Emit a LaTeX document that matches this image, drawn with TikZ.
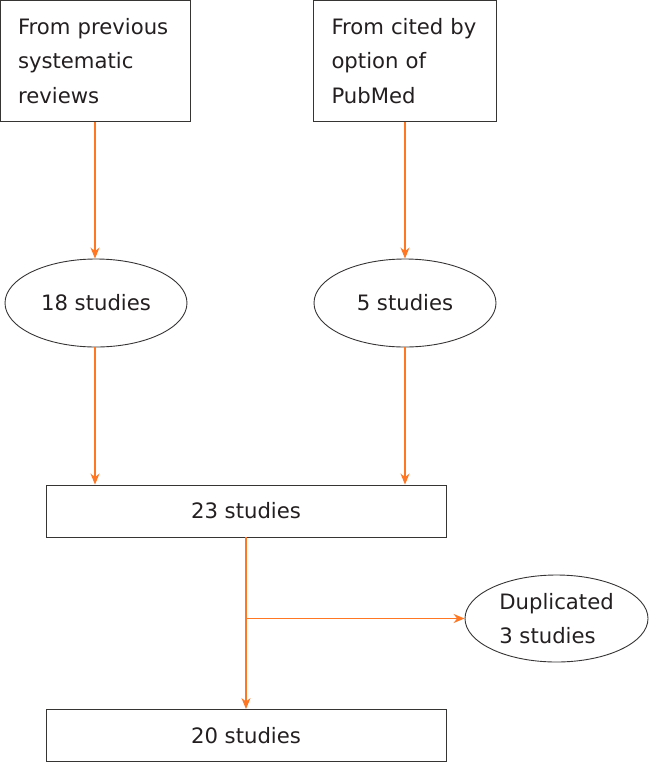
\documentclass[tikz,border=0pt]{standalone}
\usepackage{fontspec}
\setmainfont{DejaVu Sans}
\usepackage{tikz}
\usetikzlibrary{shapes,arrows,positioning,calc,arrows.meta}
\definecolor{flowline}{RGB}{255,118,35}
\definecolor{boxline}{RGB}{55,52,52}
\definecolor{boxtext}{RGB}{35,31,32}

\begin{document}
\begin{tikzpicture}[
    x=1pt, y=-1pt,
    srcbox/.style={draw=boxline, line width=0.9pt, rectangle, align=left, inner xsep=18pt, minimum height=121pt, text=boxtext, font=\fontsize{21.2}{34.5}\selectfont},
    countbox/.style={draw=boxline, line width=0.9pt, rectangle, minimum width=400pt, minimum height=52pt, text=boxtext, font=\fontsize{21.2}{34.5}\selectfont},
    countoval/.style={draw=boxline, line width=0.9pt, ellipse, inner sep=0pt, minimum width=182pt, minimum height=88pt, align=left, text=boxtext, font=\fontsize{21.2}{34.5}\selectfont},
    flow/.style={draw=flowline, line width=1.2pt, -{Stealth[length=11pt, width=9pt]}}
]
    \useasboundingbox (0,0) rectangle (652,763);

    \node[srcbox, text width=154pt] (prev) at (95, 61) {From previous\\systematic\\reviews};
    \node[srcbox, text width=147pt] (cited) at (405, 61) {From cited by\\option of\\PubMed};

    \node[countoval] (s18) at (96, 303) {18 studies};
    \node[countoval] (s5) at (405, 303) {5 studies};

    \node[countbox] (s23) at (246, 511) {23 studies};
    \node[countbox] (s20) at (246, 735.5) {20 studies};

    \node[countoval, minimum width=183pt, minimum height=87pt] (dup) at (556.5, 618.5) {Duplicated\\3 studies};

    \coordinate (split) at (s23.south |- dup.west);

    \draw[flow] (prev.south) -- (prev.south |- s18.north);
    \draw[flow] (cited.south) -- (cited.south |- s5.north);
    \draw[flow] (s18.south -| prev.south) -- (prev.south |- s23.north);
    \draw[flow] (s5.south) -- (s5.south |- s23.north);
    \draw[flow] (s23.south) -- (s20.north);
    \draw[flow] (split) -- (dup.west);
\end{tikzpicture}
\end{document}
